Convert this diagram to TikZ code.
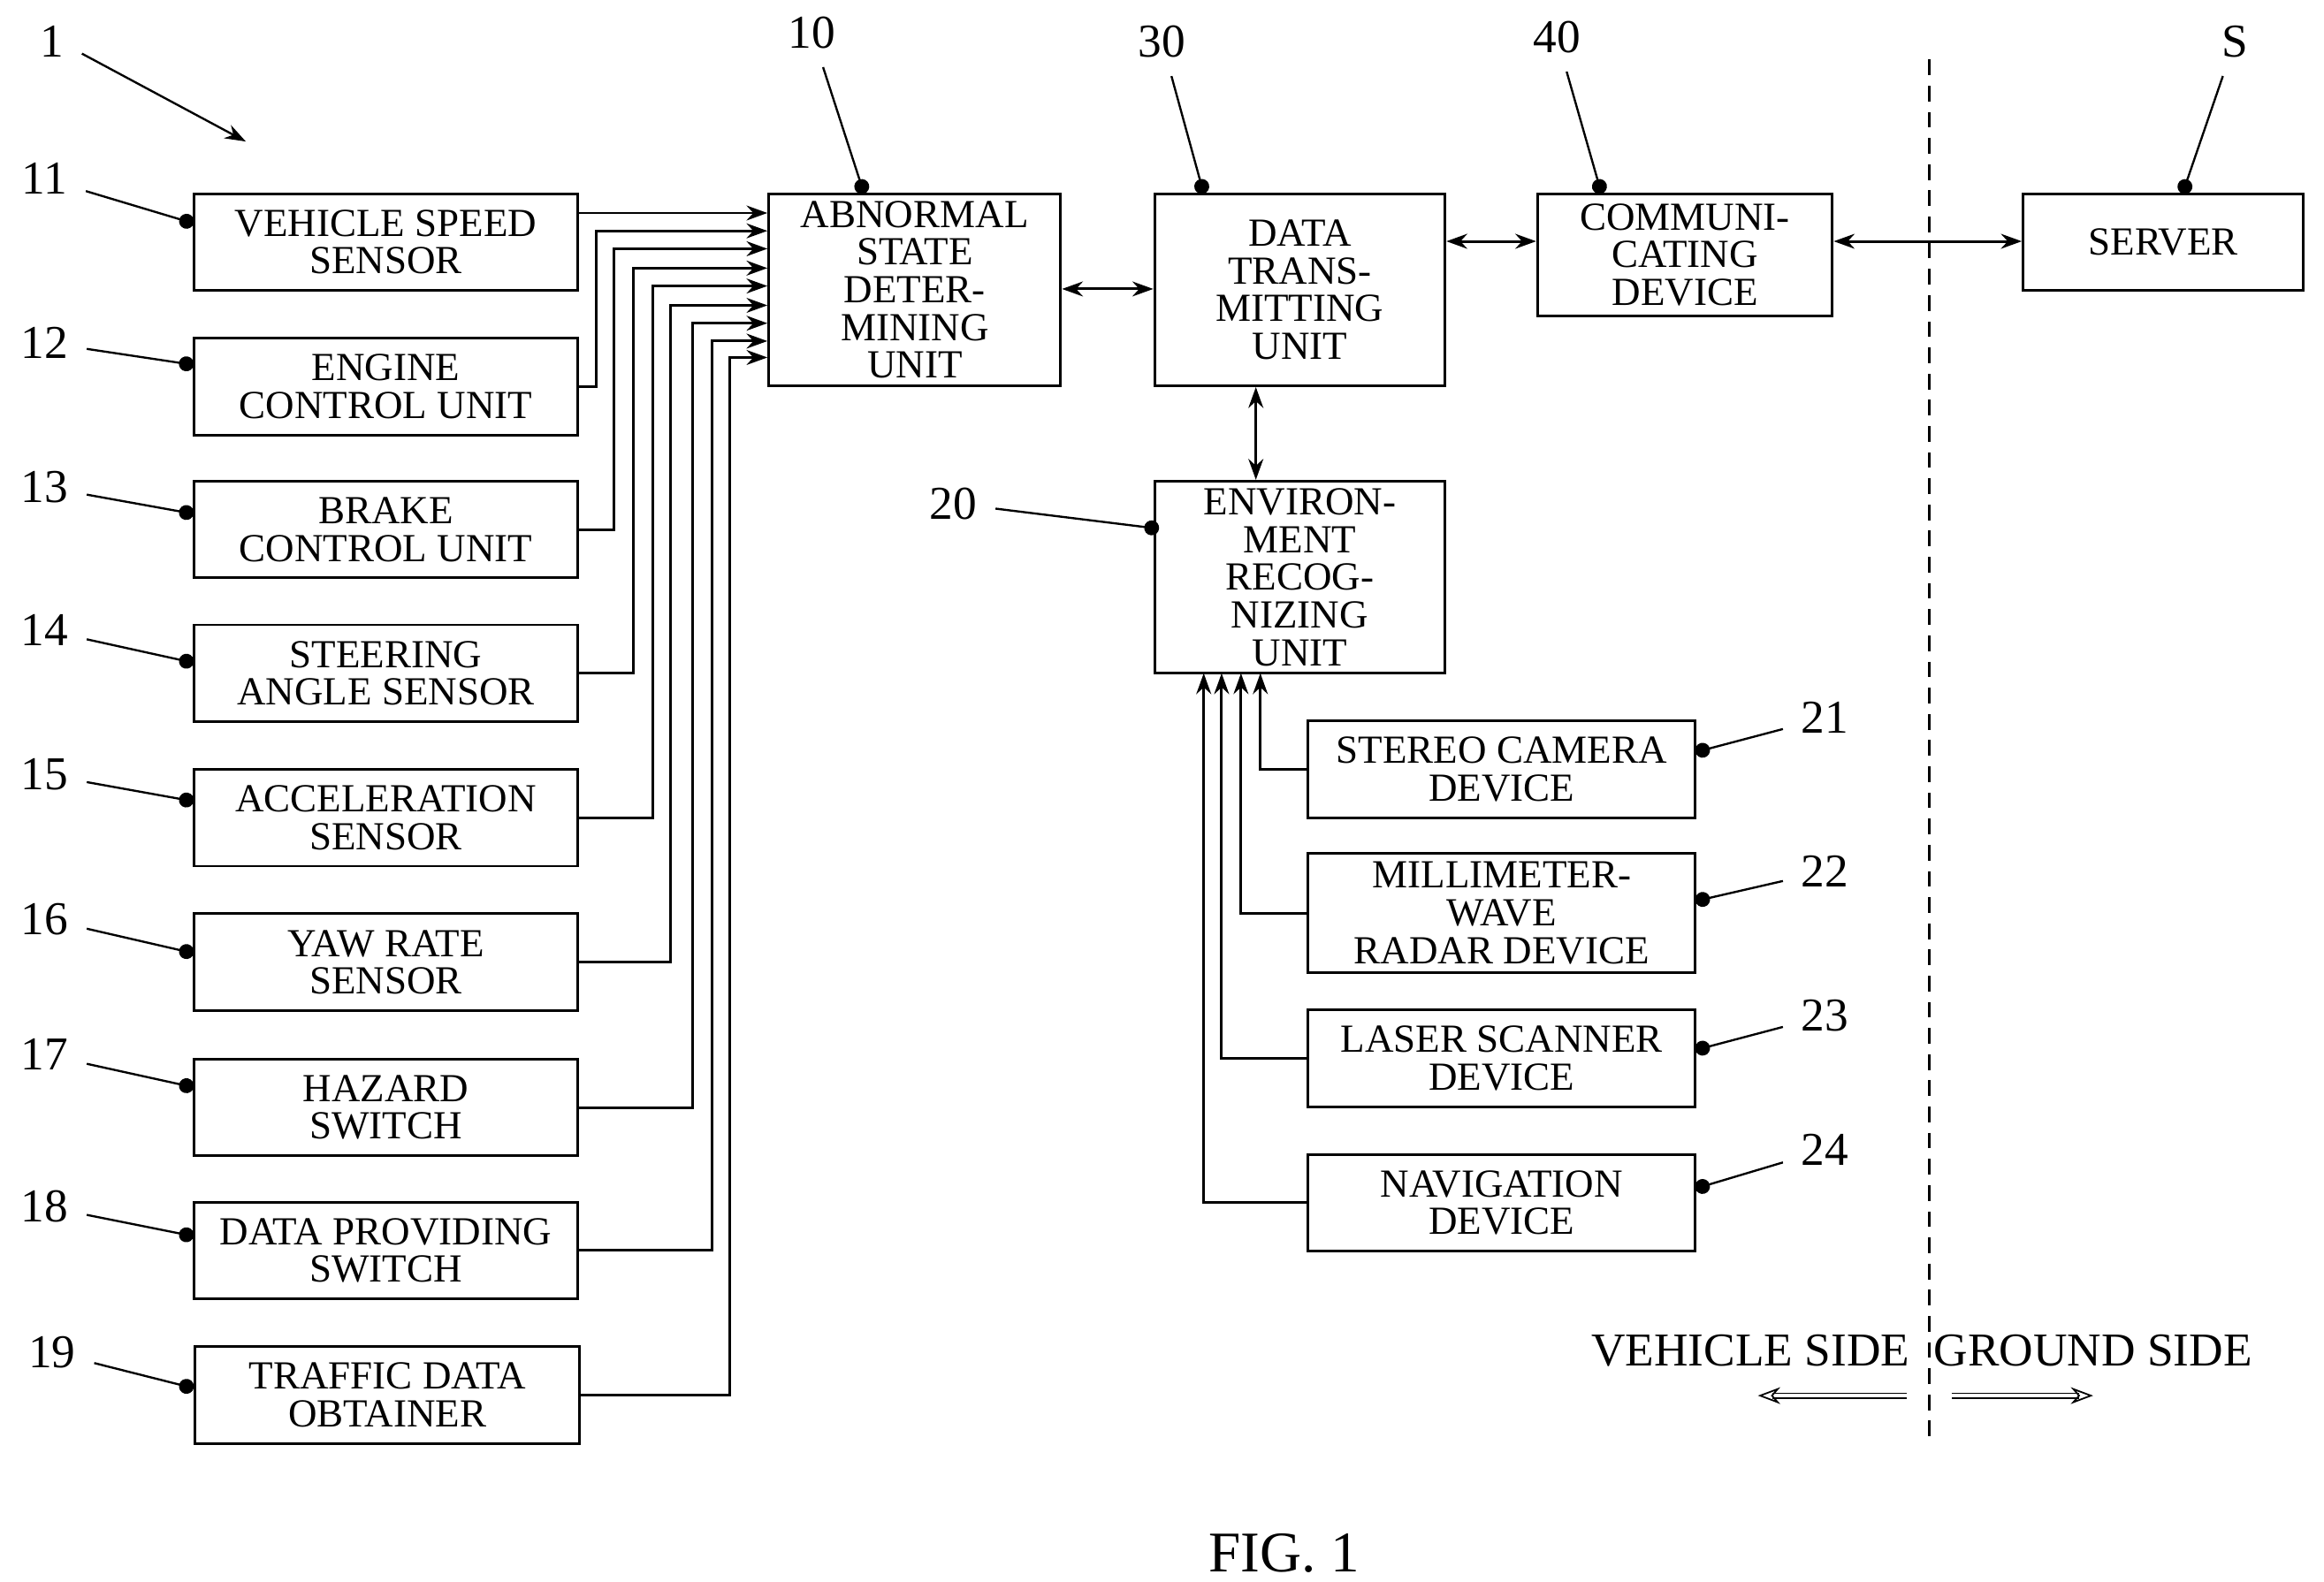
\documentclass[tikz,border=0pt]{standalone}
\usepackage{fontspec}
\setmainfont{Liberation Serif}
\usetikzlibrary{positioning, arrows, arrows.meta}
\tikzstyle{block} = [rectangle, draw, line width=0.5pt, inner sep=0pt, align=center,
    font=\fontsize{7.6}{7.2}\selectfont]
\tikzstyle{line} = [draw, line width=0.5pt, -{Stealth[length=1.4mm,width=1mm]}]
\tikzstyle{dline} = [draw, line width=0.5pt, {Stealth[length=1.4mm,width=1mm]}-{Stealth[length=1.4mm,width=1mm]}]
\tikzstyle{lead} = [draw, line width=0.4pt, -{Circle[length=1mm]}]
\tikzstyle{num} = [font=\fontsize{9}{9}\selectfont]
\newcommand{\bx}[6]{\node [block, minimum width=#3cm, minimum height=#4cm] (#1) at (#2) {#6};}
\begin{document}
\begin{tikzpicture}[x=1cm, y=-1cm]
        \useasboundingbox (0,0) rectangle (15.6,10.62);
        % Place nodes: sensors
        \bx{speed}{2.59,1.625}{2.58}{0.65}{}{VEHICLE SPEED\\SENSOR}
        \bx{engine}{2.59,2.595}{2.58}{0.65}{}{ENGINE\\CONTROL UNIT}
        \bx{brake}{2.59,3.555}{2.58}{0.65}{}{BRAKE\\CONTROL UNIT}
        \bx{steer}{2.59,4.52}{2.58}{0.65}{}{STEERING\\ANGLE SENSOR}
        \bx{accel}{2.59,5.49}{2.58}{0.65}{}{ACCELERATION\\SENSOR}
        \bx{yaw}{2.59,6.46}{2.58}{0.65}{}{YAW RATE\\SENSOR}
        \bx{hazard}{2.59,7.435}{2.58}{0.65}{}{HAZARD\\SWITCH}
        \bx{provide}{2.59,8.395}{2.58}{0.65}{}{DATA PROVIDING\\SWITCH}
        \bx{traffic}{2.6,9.365}{2.58}{0.65}{}{TRAFFIC DATA\\OBTAINER}
        % Place nodes: units
        \bx{abnorm}{6.14,1.945}{1.96}{1.29}{}{ABNORMAL\\STATE\\DETER-\\MINING\\UNIT}
        \bx{trans}{8.725,1.945}{1.95}{1.29}{}{DATA\\TRANS-\\MITTING\\UNIT}
        \bx{comm}{11.31,1.71}{1.98}{0.82}{}{COMMUNI-\\CATING\\DEVICE}
        \bx{server}{14.52,1.625}{1.88}{0.65}{}{SERVER}
        \bx{env}{8.725,3.875}{1.95}{1.29}{}{ENVIRON-\\MENT\\RECOG-\\NIZING\\UNIT}
        \bx{stereo}{10.08,5.165}{2.6}{0.65}{}{STEREO CAMERA\\DEVICE}
        \bx{radar}{10.08,6.13}{2.6}{0.8}{}{MILLIMETER-\\WAVE\\RADAR DEVICE}
        \bx{laser}{10.08,7.105}{2.6}{0.65}{}{LASER SCANNER\\DEVICE}
        \bx{navi}{10.08,8.075}{2.6}{0.65}{}{NAVIGATION\\DEVICE}
        % Draw edges: sensors to unit 10
        \path [line] (speed.east |- 0,1.43) -- (abnorm.west |- 0,1.43);
        \foreach \src/\x/\y in {engine/4.0/1.55, brake/4.12/1.67, steer/4.25/1.80,
            accel/4.38/1.92, yaw/4.50/2.05, hazard/4.65/2.17, provide/4.78/2.29, traffic/4.90/2.40}
            \path [line] (\src.east) -| (\x,\y) -- (abnorm.west |- 0,\y);
        % Draw edges: devices to unit 20
        \foreach \src/\x in {stereo/8.46, radar/8.33, laser/8.20, navi/8.08}
            \path [line] (\src.west) -| (\x,4.52);
        \path [dline] (abnorm.east |- 0,1.94) -- (trans.west |- 0,1.94);
        \path [dline] (trans.east |- 0,1.62) -- (comm.west |- 0,1.62);
        \path [dline] (comm.east |- 0,1.62) -- (server.west |- 0,1.62);
        \path [dline] (trans.south -| 8.43,0) -- (env.north -| 8.43,0);
        % Reference numerals
        \node [num] (n1) at (0.35,0.28) {1};
        \draw [line width=0.4pt, -{Stealth[length=1.4mm,width=1mm]}] (n1) ++(0.2,0.08) -- (1.65,0.95);
        \foreach \n/\px/\py/\tx/\ty in {11/0.3/1.2/1.3/1.5, 12/0.3/2.3/1.3/2.45, 13/0.3/3.27/1.3/3.45,
            14/0.3/4.23/1.3/4.45, 15/0.3/5.2/1.3/5.38, 16/0.3/6.17/1.3/6.4, 17/0.3/7.08/1.3/7.3,
            18/0.3/8.1/1.3/8.3, 19/0.35/9.08/1.3/9.32,
            10/5.45/0.22/5.8/1.3, 30/7.8/0.28/8.08/1.3, 40/10.45/0.25/10.75/1.3, S/15.0/0.28/14.65/1.3,
            20/6.4/3.38/7.78/3.55, 21/12.25/4.82/11.38/5.05, 22/12.25/5.85/11.38/6.05,
            23/12.25/6.82/11.38/7.05, 24/12.25/7.72/11.38/7.98}
            {\node [num] (r\n) at (\px,\py) {\n};
             \path [lead] (r\n) -- (\tx,\ty);}
        % Vehicle / ground side
        \draw [line width=0.5pt, dash pattern=on 3pt off 2pt] (12.95,0.4) -- (12.95,9.7);
        \node [num] (veh) at (11.75,9.07) {VEHICLE SIDE};
        \node [num] (gnd) at (14.05,9.07) {GROUND SIDE};
        \draw [line width=0.3pt, double, -{Stealth[open,length=1.5mm]}] (12.8,9.37) -- (11.8,9.37);
        \draw [line width=0.3pt, double, -{Stealth[open,length=1.5mm]}] (13.1,9.37) -- (14.05,9.37);
        \node [font=\fontsize{11}{11}\selectfont] (fig) at (8.62,10.43) {FIG. 1};
\end{tikzpicture}
\end{document}
